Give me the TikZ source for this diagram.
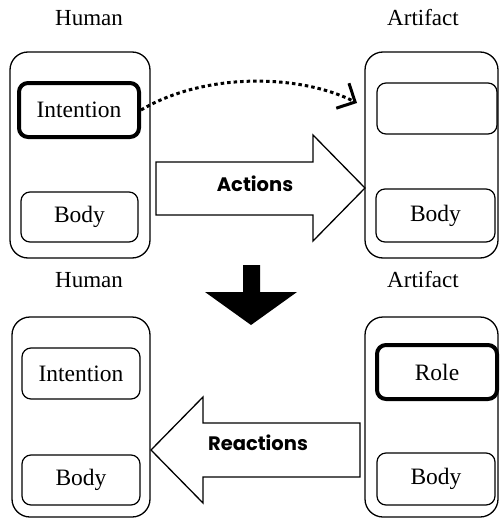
\documentclass[tikz,border=0pt]{standalone}
\usepackage{fontspec}
\setmainfont{Liberation Serif}
\newfontfamily\gothic{Poppins}
\usetikzlibrary{arrows.meta}
\begin{document}
\begin{tikzpicture}[x=1pt,y=-1pt,
  outer/.style={draw, line width=1.3pt, rounded corners=18pt, inner sep=0pt},
  inner/.style={draw, line width=1.2pt, rounded corners=9pt, inner sep=0pt,
    font=\fontsize{23.5}{26}\selectfont},
  thickbox/.style={inner, line width=4pt},
  hdr/.style={font=\fontsize{23}{26}\selectfont},
  blockarrow/.style={draw, line width=1.3pt, fill=white, line join=miter},
  lbl/.style={font=\gothic\bfseries\fontsize{19.5}{22}\selectfont}]
\useasboundingbox (0,0) rectangle (500,519);

% headers
\node[hdr] (h1) at (89,18) {Human};
\node[hdr] (a1) at (423,18) {Artifact};
\node[hdr] (h2) at (89,280) {Human};
\node[hdr] (a2) at (423,280) {Artifact};

% top left
\node[outer, minimum width=140pt, minimum height=206pt] (hum1) at (80,155) {};
\node[thickbox, minimum width=120pt, minimum height=54pt] (int1) at (79,110) {Intention};
\node[inner, minimum width=117pt, minimum height=50pt] (bod1) at (79.5,217) {Body};

% top right
\node[outer, minimum width=133pt, minimum height=206pt] (art1) at (431.5,155) {};
\node[inner, minimum width=120pt, minimum height=51pt] (emp1) at (437,108.5) {};
\node[inner, minimum width=119pt, minimum height=53pt] (bod2) at (435.5,215.5) {Body};

% bottom left
\node[outer, minimum width=138pt, minimum height=200pt] (hum2) at (81,417) {};
\node[inner, minimum width=118pt, minimum height=51pt] (int2) at (81,373.5) {Intention};
\node[inner, minimum width=118pt, minimum height=50pt] (bod3) at (81,480) {Body};

% bottom right
\node[outer, minimum width=133pt, minimum height=200pt] (art2) at (431.5,417) {};
\node[thickbox, minimum width=120pt, minimum height=54pt] (role) at (437,372) {Role};
\node[inner, minimum width=118pt, minimum height=52pt] (bod4) at (436,479) {Body};

% dotted intention arrow
\coordinate (dtip) at (357,103);
\draw[line width=3pt, dash pattern=on 3.5pt off 3pt,
  -{Straight Barb[length=14pt,width=28pt,line width=3pt]}]
  (int1.east) .. controls (205,72) and (300,74) .. (dtip);

% Actions block arrow
\draw[blockarrow] (156,162) -- (313,162) -- (313,135) -- (365,188) -- (313,241)
  -- (313,215) -- (156,215) -- cycle;
\node[lbl] (act) at (255,184) {Actions};

% Reactions block arrow
\draw[blockarrow] (360,423) -- (203,423) -- (203,397) -- (151,450) -- (203,503)
  -- (203,477) -- (360,477) -- cycle;
\node[lbl] (rea) at (258,443) {Reactions};

% black down arrow
\fill (243,265) -- (260,265) -- (260,292) -- (297,292) -- (251,325) -- (205,292)
  -- (243,292) -- cycle;
\end{tikzpicture}
\end{document}
